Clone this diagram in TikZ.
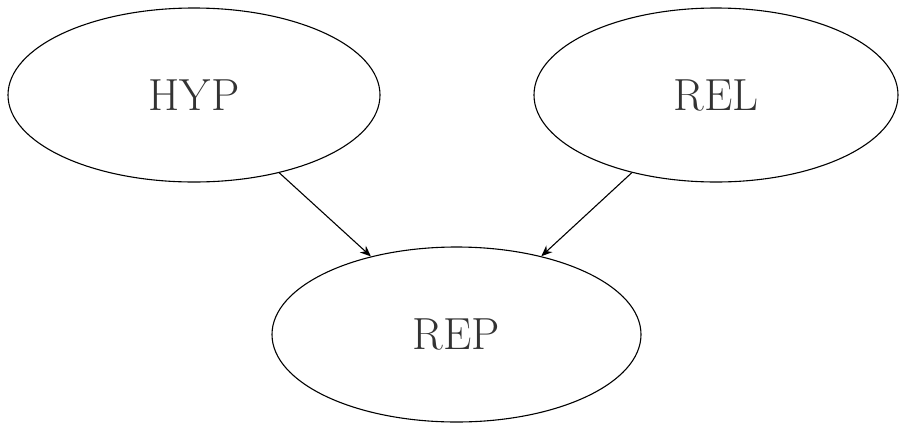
\documentclass[tikz,border=0pt]{standalone}
\usetikzlibrary{shapes.geometric,arrows.meta}
\begin{document}
\begin{tikzpicture}[x=1pt,y=-1pt,
  ovalnode/.style={draw, ellipse, line width=1.1pt, inner sep=0pt,
    minimum width=372pt, minimum height=174pt,
    font=\fontsize{45}{54}\selectfont, text=black!80},
  link/.style={draw, line width=1.1pt, -{Stealth[length=11pt,width=9pt]}}]
  \useasboundingbox (0,0) rectangle (905,424);
  \node[ovalnode] (hyp) at (194,95) {HYP};
  \node[ovalnode, minimum width=364pt] (rel) at (716,95) {REL};
  \node[ovalnode, minimum width=369pt, minimum height=175pt] (rep) at (456.5,334.5) {REP};
  \draw[link] (hyp) -- (rep);
  \draw[link] (rel) -- (rep);
\end{tikzpicture}
\end{document}
